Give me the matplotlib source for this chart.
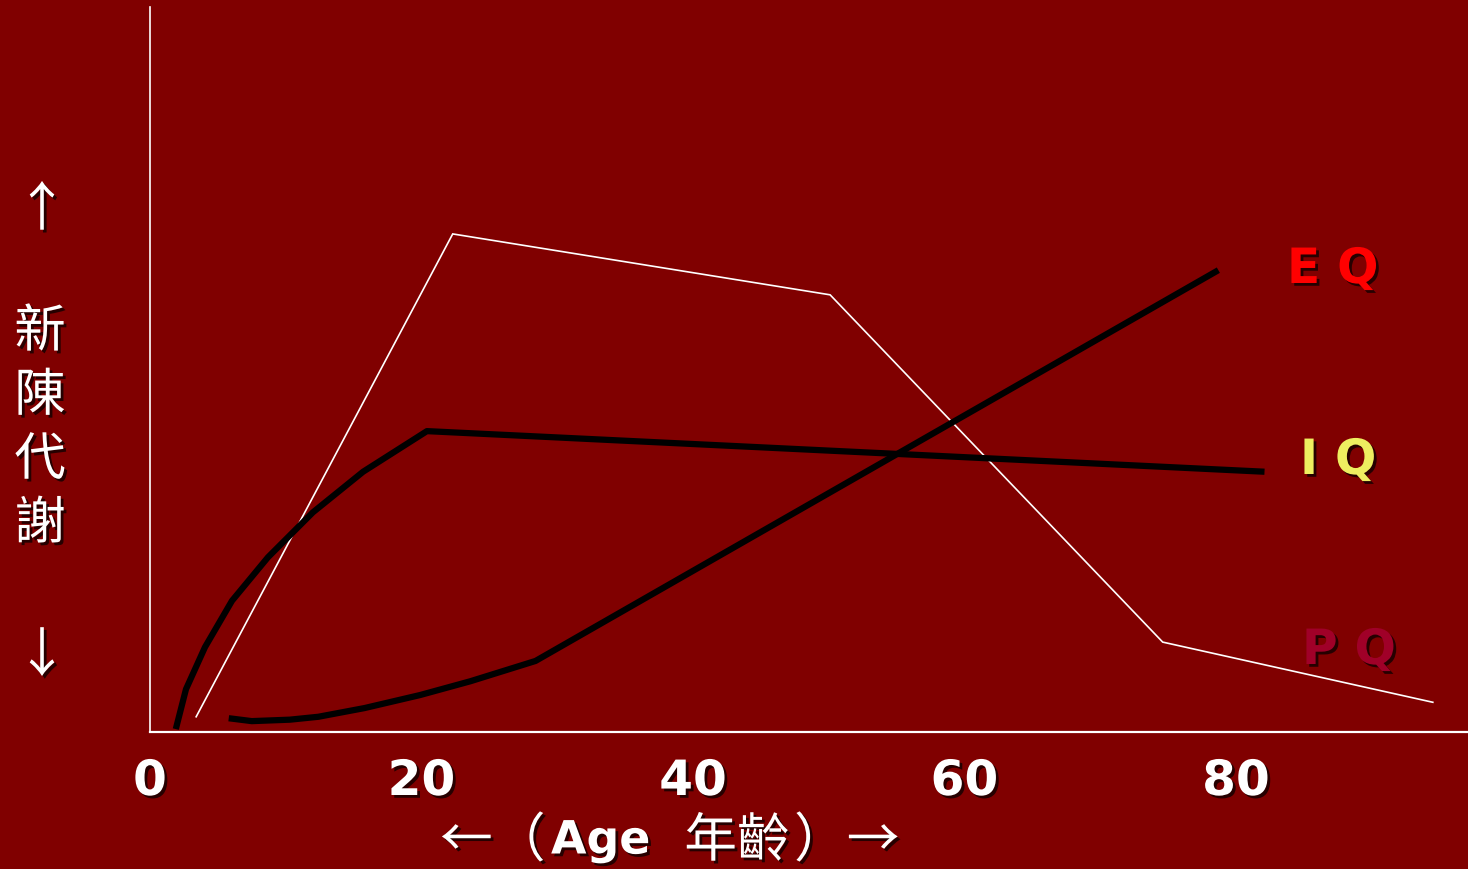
import matplotlib
matplotlib.use("Agg")
import matplotlib.pyplot as plt
import matplotlib.patheffects as pe

# Curves (age in years, relative level 0-100)
iq_age = [1.9, 2.65, 4.05, 6.04, 8.69, 12.0, 15.7, 20.4, 82.1]
iq_val = [0.4, 5.9, 11.7, 18.1, 24.1, 30.3, 35.9, 41.5, 35.9]

eq_age = [5.8, 7.5, 10.3, 12.4, 15.8, 19.9, 23.6, 28.4, 78.7]
eq_val = [1.9, 1.5, 1.7, 2.1, 3.3, 5.1, 7.0, 9.8, 63.7]

pq_age = [3.4, 22.3, 50.1, 74.6, 94.5]
pq_val = [2.1, 68.7, 60.3, 12.4, 4.1]

age_ticks = [0, 20, 40, 60, 80]
tick_labels = ["0", "20", "40", "60", "80"]

BG = "#800000"
W, H = 1468, 870
PX_PER_YEAR = 13.575

fig = plt.figure(figsize=(W / 100, H / 100), dpi=100, facecolor=BG)
ax = fig.add_axes([150 / W, 1 - 733 / H, 1318 / W, 725 / H])
ax.set_facecolor(BG)
ax.set_xlim(0, 1318 / PX_PER_YEAR)
ax.set_ylim(0, 100)

shadow = [pe.SimplePatchShadow(offset=(2, -2), shadow_rgbFace="black", alpha=0.7), pe.Normal()]

ax.plot(pq_age, pq_val, color="white", lw=1.2, solid_joinstyle="miter")
ax.plot(iq_age, iq_val, color="black", lw=4.5, solid_capstyle="butt")
ax.plot(eq_age, eq_val, color="black", lw=4.5, solid_capstyle="butt")

for s in ("top", "right"):
    ax.spines[s].set_visible(False)
ax.spines["left"].set_color("white")
ax.spines["left"].set_linewidth(1.2)
ax.spines["bottom"].set_color("white")
ax.spines["bottom"].set_linewidth(1.6)
ax.set_yticks([])
ax.set_xticks(age_ticks)
ax.set_xticklabels(tick_labels)
ax.tick_params(axis="x", length=0, pad=18, labelsize=35, labelcolor="white")
for lab in ax.get_xticklabels():
    lab.set_fontweight("bold")
    lab.set_path_effects(shadow)


def fx(px):
    return px / W


def fy(py):
    return 1 - py / H


# Curve labels
for txt, col, x0, base in [("E Q", "#ff0000", 1287, 284),
                           ("I Q", "#eeee60", 1300, 475),
                           ("P Q", "#a00028", 1302, 665)]:
    fig.text(fx(x0), fy(base), txt, color=col, fontsize=35, fontweight="bold",
             ha="left", va="baseline", path_effects=shadow)

cjk = ["Noto Sans CJK TC", "DejaVu Sans"]

# Vertical axis title
fig.text(fx(42), fy(211), "↑", color="white", fontsize=38, ha="center", va="center",
         family=cjk, path_effects=shadow)
fig.text(fx(42), fy(657), "↓", color="white", fontsize=38, ha="center", va="center",
         family=cjk, path_effects=shadow)
for ch, yc in zip("新陳代謝", [333, 397, 461, 525]):
    fig.text(fx(40), fy(yc), ch, color="white", fontsize=37, ha="center", va="center",
             family=cjk, path_effects=shadow)

# Horizontal axis title
yc = 842
fig.text(fx(440), fy(yc), "←（", color="white", fontsize=38, ha="left", va="center",
         family=cjk, path_effects=shadow)
fig.text(fx(551), fy(yc), "Age", color="white", fontsize=33, ha="left", va="center",
         fontweight="bold", family=["DejaVu Sans"], path_effects=shadow)
fig.text(fx(737), fy(yc), "年齡", color="white", fontsize=38, ha="center", va="center",
         family=cjk, path_effects=shadow)
fig.text(fx(794), fy(yc), "）→", color="white", fontsize=38, ha="left", va="center",
         family=cjk, path_effects=shadow)

fig.savefig("out.png", dpi=100, facecolor=BG)
